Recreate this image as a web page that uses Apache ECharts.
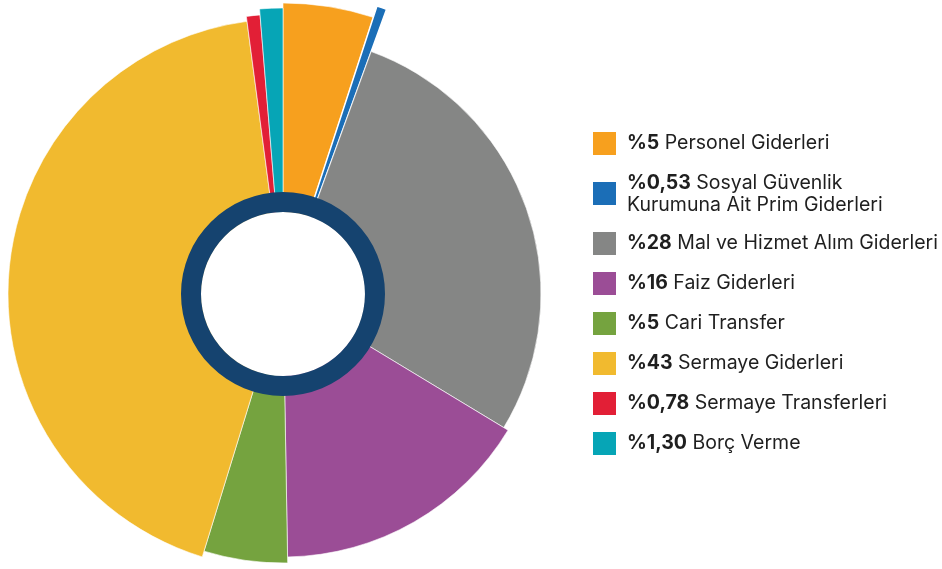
<!DOCTYPE html>
<html>
<head>
<meta charset="utf-8">
<script src="https://cdn.jsdelivr.net/npm/echarts@6/dist/echarts.min.js"></script>
<style>
  html, body { margin: 0; padding: 0; background: #ffffff; }
  #chart { width: 942px; height: 569px; }
</style>
</head>
<body>
<div id="chart"></div>
<script>
  // veriler
  const names = ['Personel Giderleri', 'Sosyal Güvenlik\nKurumuna Ait Prim Giderleri', 'Mal ve Hizmet Alım Giderleri',
    'Faiz Giderleri', 'Cari Transfer', 'Sermaye Giderleri', 'Sermaye Transferleri', 'Borç Verme']
  const values = [5, 0.53, 28, 16, 5, 43, 0.78, 1.30]
  const pctLabels = ['%5', '%0,53', '%28', '%16', '%5', '%43', '%0,78', '%1,30']
  const colors = ['#F7A01E', '#1B6EB7', '#858685', '#9B4D96', '#75A33F', '#F1BA2F', '#E21F36', '#06A5B6']
  // her dilimin dış yarıçapı (px)
  const outerR = [291, 303, 258, 263, 269, 275, 280, 286]

  const center = [283, 294]
  const chart = echarts.init(document.getElementById('chart'))

  let series = []
  names.forEach(function (n, i) {
    series.push({
      type: 'pie',
      center: center,
      radius: [82, outerR[i]],
      startAngle: 90,
      clockwise: true,
      silent: true,
      label: { show: false },
      labelLine: { show: false },
      emphasis: { disabled: true },
      data: names.map(function (name, j) {
        return {
          name: name,
          value: values[j],
          itemStyle: j === i
            ? { color: colors[j], borderColor: '#ffffff', borderWidth: j === 1 ? 1.5 : 0.6 }
            : { color: 'rgba(0,0,0,0)', borderWidth: 0 }
        }
      })
    })
  })
  // ortadaki lacivert halka
  series.push({
    type: 'pie',
    center: center,
    radius: [82, 102],
    silent: true,
    z: 10,
    label: { show: false },
    labelLine: { show: false },
    emphasis: { disabled: true },
    itemStyle: { color: '#15436F' },
    data: [{ name: 'halka', value: 1 }]
  })

  const txt = { fontFamily: 'Inter', fontSize: 19.5, color: '#1f1f1f' }
  const option = {
    animation: false,
    legend: {
      orient: 'vertical',
      left: 588,
      top: 127,
      icon: 'rect',
      itemWidth: 23,
      itemHeight: 23,
      itemGap: 17,
      selectedMode: false,
      itemStyle: { borderWidth: 0 },
      data: names.map(function (n, i) {
        return { name: n, itemStyle: { color: colors[i], borderWidth: 0 } }
      }),
      formatter: function (name) {
        const i = names.indexOf(name)
        const lines = name.split('\n')
        if (lines.length === 1) {
          return '{b|' + pctLabels[i] + '} {t|' + lines[0] + '}'
        }
        return '{b2|' + pctLabels[i] + '} {t2|' + lines[0] + '}\n{t3|' + lines[1] + '}'
      },
      textStyle: Object.assign({}, txt, {
        lineHeight: 23,
        rich: {
          b: Object.assign({}, txt, { fontWeight: 'bold', lineHeight: 23, padding: [0, 0, 0, 6] }),
          t: Object.assign({}, txt, { lineHeight: 23 }),
          b2: Object.assign({}, txt, { fontWeight: 'bold', lineHeight: 20, padding: [0, 0, 0, 6] }),
          t2: Object.assign({}, txt, { lineHeight: 20 }),
          t3: Object.assign({}, txt, { lineHeight: 20, padding: [0, 0, 0, 6] })
        }
      })
    },
    series: series
  }
  chart.setOption(option)
</script>
</body>
</html>
